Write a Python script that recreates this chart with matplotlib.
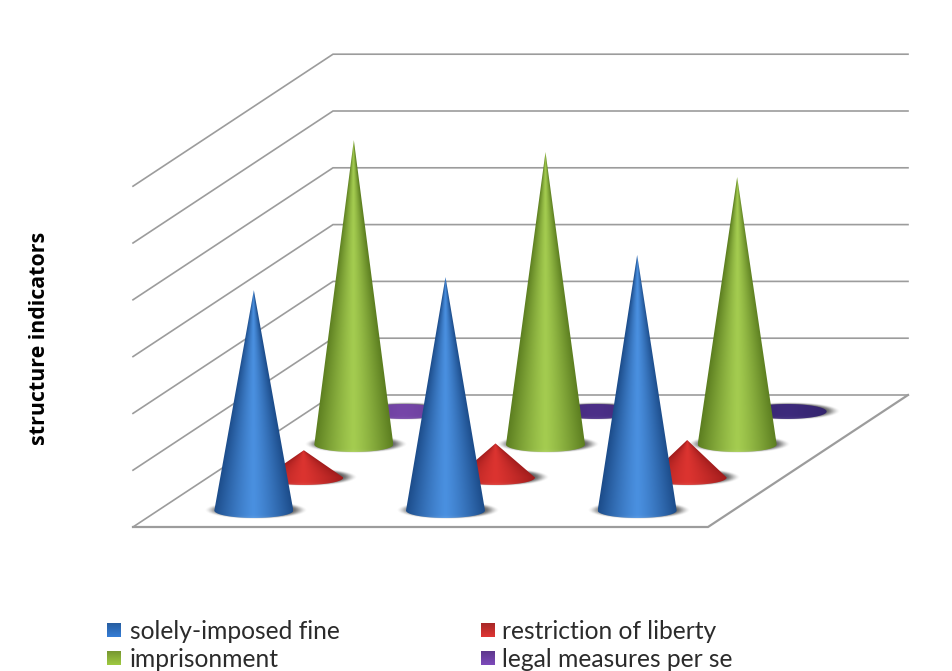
import numpy as np
import matplotlib.pyplot as plt
from matplotlib.colors import to_rgb
from matplotlib.patches import PathPatch
from matplotlib.path import Path

# share of each penalty, three periods
series = ['solely-imposed fine', 'restriction of liberty', 'imprisonment', 'legal measures per se']
fine = [38.8, 41.1, 45.0]
liberty = [4.8, 6.0, 6.6]
prison = [53.6, 51.5, 47.1]
legal = [0.2, 0.2, 0.2]
values = [fine, liberty, prison, legal]
y_max = 60
y_step = 10
n_cat = len(fine)

# floor of the box in pixels
floor_x0, floor_y0 = 133, 527
floor_w = 575
depth_dx, depth_dy = 200, -132
unit_px = 56.8 / y_step
base_rx, base_ry = 39.5, 7.5

# edge/highlight shades for each series
shades = [('#1c4c8a', '#4a90e0'), ('#a01c1c', '#dc3430'), ('#5c7e20', '#a4cc50'), ('#5a3a90', '#7c4cae')]
legal_shades = [('#643c98', '#7646a8'), ('#3f2878', '#4c2f88'), ('#33246c', '#3d2a7c')]
swatches = ['#2f6fbe', '#c6302e', '#8db33a', '#6f42a6']


def project(cat, row, value=0):
    # category and depth row to pixels, value goes straight up
    x = floor_x0 + floor_w * cat / n_cat + depth_dx * row / len(series)
    y = floor_y0 + depth_dy * row / len(series) - value * unit_px
    return x, y


def draw_shadow(ax, cx, cy, zorder):
    # soft dark disc under the base
    u = np.linspace(-1, 1, 160)
    xx, yy = np.meshgrid(u, u)
    r = np.sqrt(xx ** 2 + yy ** 2)
    s = np.clip((1 - r) / 0.32, 0, 1)
    img = np.zeros((160, 160, 4))
    img[..., :3] = 0.22
    img[..., 3] = s * s * (3 - 2 * s) * 0.8
    ax.imshow(img, extent=(cx - 50, cx + 54, cy + 9, cy - 9), aspect='auto',
              interpolation='bilinear', zorder=zorder)


def draw_cone(ax, cx, cy, height, edge, light, zorder):
    t = np.linspace(np.pi, 0, 60)
    bottom = np.column_stack([cx + base_rx * np.cos(t), cy + base_ry * np.sin(t)])
    if height > base_ry:
        top = np.array([[cx, cy - height]])
    else:
        top_t = np.linspace(0, -np.pi, 60)
        top = np.column_stack([cx + base_rx * np.cos(top_t), cy + base_ry * np.sin(top_t)])
    outline = np.vstack([bottom, top, bottom[:1]])
    clip = PathPatch(Path(outline), transform=ax.transData, fc='none', ec='none')
    ax.add_patch(clip)

    # shade across the cone, narrowing towards the tip
    y_top = cy - max(height, base_ry)
    y_bot = cy + base_ry
    nx, ny = 200, max(int(y_bot - y_top) * 2, 40)
    xs = np.linspace(cx - base_rx, cx + base_rx, nx)
    ys = np.linspace(y_top, y_bot, ny)
    xx, yy = np.meshgrid(xs, ys)
    half = np.clip((yy - (cy - height)) / max(height, 1), 0.02, 1) * base_rx
    if height <= base_ry:
        half = np.full_like(xx, base_rx)
    u = np.clip(np.abs(xx - cx) / half, 0, 1)
    e, l = np.array(to_rgb(edge)), np.array(to_rgb(light))
    mix = (1 - u ** 1.25)[..., None]
    img = e + (l - e) * mix
    # lighter rim along the front of the base
    rim = np.clip((yy - cy) / base_ry, 0, 1)[..., None] ** 6
    img = img + (1 - img) * rim * 0.12
    im = ax.imshow(img, extent=(xs[0], xs[-1], y_bot, y_top), aspect='auto',
                   interpolation='bilinear', zorder=zorder)
    im.set_clip_path(clip)


fig = plt.figure(figsize=(9.52, 6.71), dpi=100)
ax = fig.add_axes([0, 0, 1, 1])
ax.axis('off')

# walls and floor edges
grid_color = '#9c9c9c'
for v in range(0, y_max + y_step, y_step):
    x0, y0 = project(0, 0, v)
    x1, y1 = project(0, len(series), v)
    x2, y2 = project(n_cat, len(series), v)
    ax.plot([x0, x1, x2], [y0, y1, y2], color=grid_color, lw=1.2, zorder=1, solid_joinstyle='miter')
xa, ya = project(0, 0)
xb, yb = project(n_cat, 0)
xc, yc = project(n_cat, len(series))
ax.plot([xa, xb, xc], [ya, yb, yc], color=grid_color, lw=1.6, zorder=1, solid_joinstyle='miter')

# back row first so the front cones cover it
z = 2
for row in range(len(series) - 1, -1, -1):
    for cat in range(n_cat):
        cx, cy = project(cat + 0.5, row + 0.5)
        h = values[row][cat] * unit_px
        edge, light = legal_shades[cat] if row == 3 else shades[row]
        draw_shadow(ax, cx, cy, z)
        draw_cone(ax, cx, cy, h, edge, light, z + 1)
        z += 2

ax.text(40, 338, 'structure indicators', rotation=90, ha='center', va='center',
        fontsize=15.4, fontweight='bold', family='Open Sans', color='black', zorder=z)

# legend, two rows of two
legend_x = [107, 481]
text_x = [130, 502]
legend_y = [630, 658]
for i, (name, color) in enumerate(zip(series, swatches)):
    x = legend_x[i % 2]
    y = legend_y[i // 2]
    c = np.array(to_rgb(color))
    grad = np.linspace(c * 0.85, np.minimum(c * 1.12, 1), 16)[:, None, :]
    ax.imshow(grad, extent=(x, x + 14, y + 7, y - 7), aspect='auto', zorder=z)
    ax.text(text_x[i % 2], y + 1.5, name, ha='left', va='center', fontsize=17.7, family='Lato',
            color='#2b2b2b', zorder=z)

ax.set_xlim(0, 952)
ax.set_ylim(671, 0)
fig.savefig('out.png', dpi=100, facecolor='white')
